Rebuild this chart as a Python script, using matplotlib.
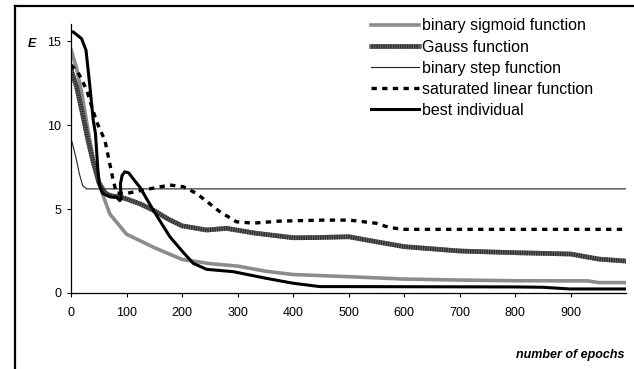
import matplotlib

matplotlib.use("Agg")
import matplotlib.pyplot as plt
from matplotlib.lines import Line2D

plt.rcParams["font.family"] = ["Liberation Sans", "DejaVu Sans"]

# Error curves (epochs, E)
sigmoid_x = [0, 10, 20, 30, 40, 50, 60, 70, 80, 90, 100, 150, 200, 250, 300, 350, 400, 500,
             600, 700, 800, 930, 950, 1000]
sigmoid_y = [14.5, 13.4, 11.8, 9.8, 8.0, 6.6, 5.6, 4.7, 4.3, 3.9, 3.5, 2.7, 2.0, 1.75, 1.6, 1.3,
             1.1, 0.97, 0.83, 0.77, 0.73, 0.72, 0.62, 0.62]

gauss_x = [0, 10, 20, 30, 40, 50, 60, 70, 80, 90, 100, 125, 150, 175, 200, 244, 280, 330, 400,
           440, 500, 550, 600, 700, 800, 900, 950, 1000]
gauss_y = [13.3, 12.3, 10.8, 9.2, 7.8, 6.6, 6.0, 5.8, 5.75, 5.7, 5.6, 5.3, 4.9, 4.4, 4.0, 3.75,
           3.85, 3.57, 3.29, 3.3, 3.35, 3.05, 2.76, 2.5, 2.4, 2.32, 2.02, 1.9]

step_x = [0, 5, 10, 15, 21, 28, 40, 1000]
step_y = [9.2, 8.6, 7.9, 7.1, 6.4, 6.2, 6.2, 6.2]

satlin_x = [0, 15, 28, 46, 61, 76, 82, 100, 130, 178, 202, 226, 268, 298, 328, 376, 454, 502,
            550, 574, 601, 1000]
satlin_y = [13.6, 13.0, 12.1, 10.2, 9.1, 6.7, 5.95, 5.93, 6.13, 6.43, 6.33, 5.93, 4.84, 4.24,
            4.16, 4.28, 4.34, 4.34, 4.15, 3.89, 3.79, 3.79]

best_x = [0, 4, 19, 27, 34, 40, 44, 48, 51, 57, 70, 82, 88, 90, 89, 92, 97, 104, 112, 124, 148,
          178, 201, 220, 244, 292, 352, 400, 448, 502, 802, 850, 898, 1000]
best_y = [15.55, 15.55, 15.15, 14.46, 12.3, 10.3, 9.5, 7.5, 6.43, 5.93, 5.73, 5.7, 5.5, 5.6,
          6.5, 7.0, 7.22, 7.15, 6.8, 6.3, 4.94, 3.35, 2.46, 1.77, 1.41, 1.27, 0.87, 0.58, 0.38,
          0.38, 0.36, 0.34, 0.24, 0.24]

x_ticks = list(range(0, 1000, 100))
y_ticks = [0, 5, 10, 15]

legend_labels = ["binary sigmoid function", "Gauss function", "binary step function",
                 "saturated linear function", "best individual"]

SIGMOID = dict(color="#8c8c8c", lw=2.6)
GAUSS_BASE = dict(color="#6a6a6a", lw=3.4)
GAUSS_STRIPE = dict(color="#303030", lw=3.4, dashes=(0.3, 0.2))
STEP = dict(color="#222222", lw=0.8)
SATLIN = dict(color="black", lw=2.4, dashes=(1.6, 1.6))
BEST = dict(color="black", lw=2.2)


def main() -> None:
    fig = plt.figure(figsize=(6.34, 3.69), dpi=100)
    fig.patch.set_facecolor("white")
    ax = fig.add_axes([0.112, 0.206, 0.876, 0.728])

    ax.plot(sigmoid_x, sigmoid_y, **SIGMOID)
    # Gauss curve is a striped dark gray band
    ax.plot(gauss_x, gauss_y, **GAUSS_BASE)
    ax.plot(gauss_x, gauss_y, **GAUSS_STRIPE)
    ax.plot(step_x, step_y, **STEP)
    ax.plot(satlin_x, satlin_y, **SATLIN)
    ax.plot(best_x, best_y, **BEST)

    handles = [
        Line2D([], [], **SIGMOID),
        (Line2D([], [], **GAUSS_BASE), Line2D([], [], **GAUSS_STRIPE)),
        Line2D([], [], **STEP),
        Line2D([], [], **SATLIN),
        Line2D([], [], **BEST),
    ]
    fig.legend(handles, legend_labels, loc="upper left", bbox_to_anchor=(0.578, 0.963),
               frameon=False, fontsize=11.5, handlelength=3.0, handletextpad=0.15,
               labelspacing=0.38, borderaxespad=0, borderpad=0.3)

    ax.set_xlim(0, 1000)
    ax.set_ylim(0, 16)
    ax.set_xticks(x_ticks)
    ax.set_yticks(y_ticks)
    ax.tick_params(axis="both", labelsize=9, length=3, width=0.8, colors="black")
    ax.tick_params(axis="x", pad=7)
    ax.tick_params(axis="y", pad=4)
    for spine in ["top", "right"]:
        ax.spines[spine].set_visible(False)
    for spine in ["left", "bottom"]:
        ax.spines[spine].set_linewidth(0.9)

    fig.text(28 / 634, 1 - 44 / 369, "E", fontsize=9, fontweight="bold", style="italic",
             ha="left", va="center")
    fig.text(625 / 634, 1 - 355 / 369, "number of epochs", fontsize=9, fontweight="bold",
             style="italic", ha="right", va="center")

    # Outer frame (only top and left edges visible in the crop)
    fig.add_artist(Line2D([15 / 634, 15 / 634], [0, 1 - 6 / 369], color="black", lw=1.6,
                          transform=fig.transFigure))
    fig.add_artist(Line2D([15 / 634, 1], [1 - 6 / 369, 1 - 6 / 369], color="black", lw=1.6,
                          transform=fig.transFigure))

    fig.savefig("out.png", dpi=100)
    plt.close(fig)


if __name__ == "__main__":
    main()
